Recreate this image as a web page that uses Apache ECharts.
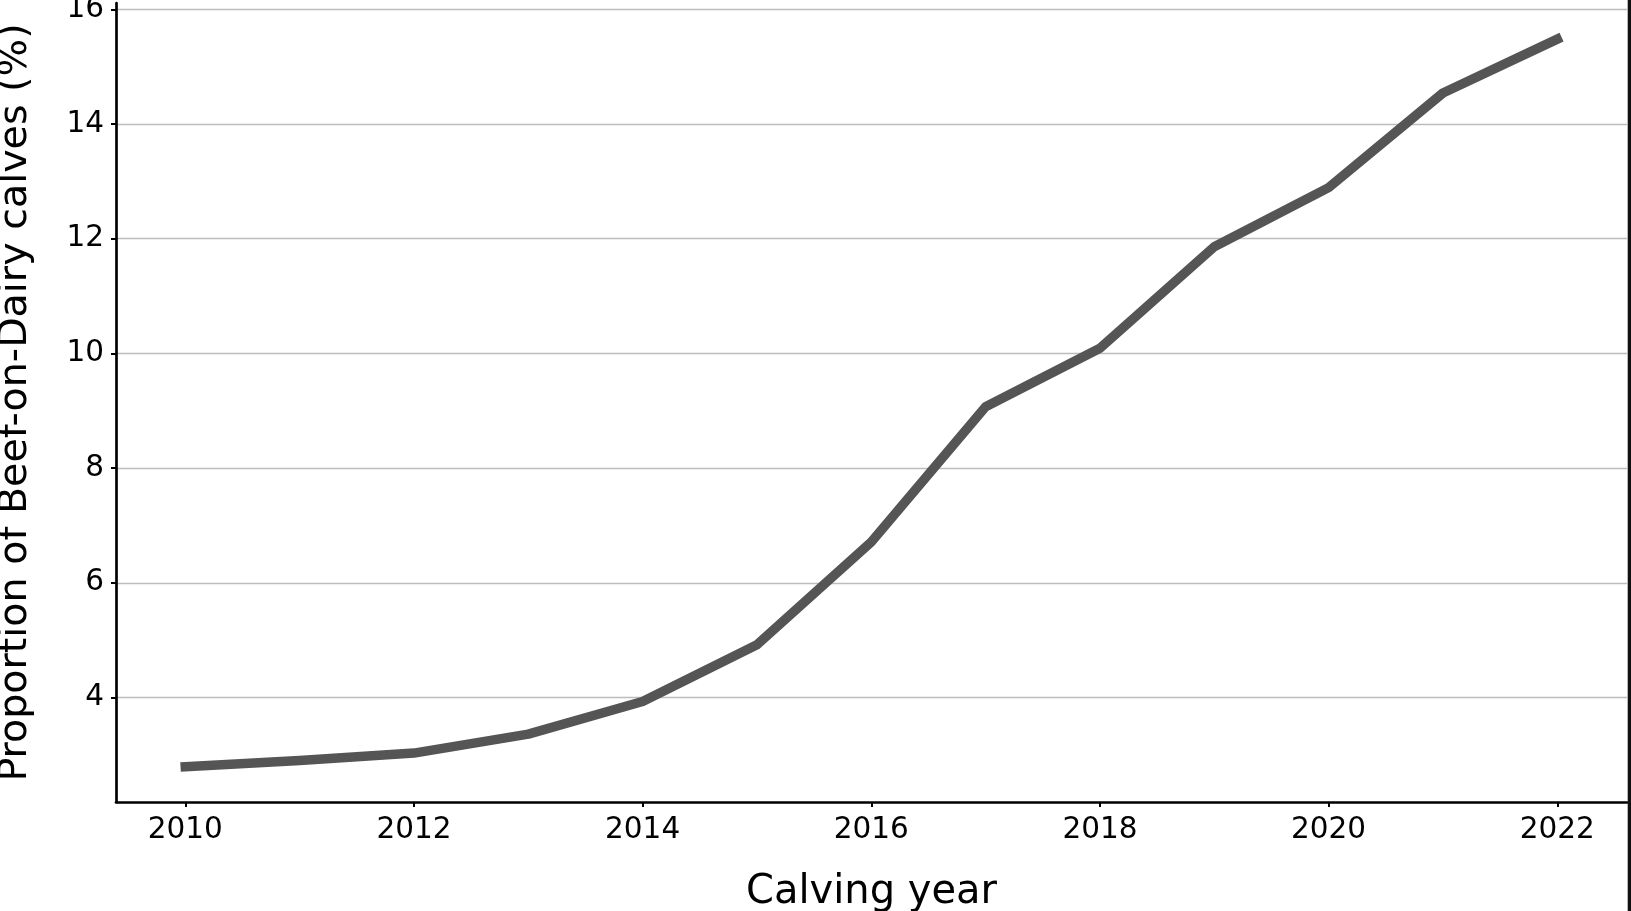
<!DOCTYPE html>
<html>
<head>
<meta charset="utf-8">
<script src="https://cdn.jsdelivr.net/npm/echarts@6/dist/echarts.min.js"></script>
<style>
  html, body { margin: 0; padding: 0; background: #fff; }
  #chart { width: 1631px; height: 911px; }
</style>
</head>
<body>
<div id="chart"></div>
<script>
// Data
const years = [2010, 2011, 2012, 2013, 2014, 2015, 2016, 2017, 2018, 2019, 2020, 2021, 2022];
const proportion = [2.79, 2.90, 3.03, 3.36, 3.93, 4.92, 6.71, 9.07, 10.09, 11.86, 12.89, 14.54, 15.48];
const xTicks = [2010, 2012, 2014, 2016, 2018, 2020, 2022];
const yTicks = [4, 6, 8, 10, 12, 14, 16];

const seriesData = years.map((y, i) => [y, proportion[i]]);
const font = 'DejaVu Sans';

const chart = echarts.init(document.getElementById('chart'), null, { renderer: 'canvas' });
chart.setOption({
  animation: false,
  backgroundColor: '#ffffff',
  grid: {
    left: 116, right: 4, top: 3, bottom: 109,
    containLabel: false,
    outerBoundsMode: 'none'
  },
  xAxis: {
    type: 'value',
    min: 2009.394,
    max: 2022.61,
    splitNumber: 7,
    name: 'Calving year',
    nameLocation: 'middle',
    nameGap: 71,
    nameTextStyle: { fontFamily: font, fontSize: 40, color: '#000' },
    axisLine: { show: true, onZero: false, lineStyle: { color: '#000', width: 2.7 } },
    axisTick: { show: true, length: 5, lineStyle: { color: '#000', width: 2 }, customValues: xTicks },
    axisLabel: {
      fontFamily: font, fontSize: 29.5, color: '#000', margin: 13,
      customValues: xTicks,
      formatter: v => String(v)
    },
    splitLine: { show: false }
  },
  yAxis: {
    type: 'value',
    min: 2.177,
    max: 16.11,
    splitNumber: 7,
    name: 'Proportion of Beef-on-Dairy calves (%)',
    nameLocation: 'middle',
    nameGap: 80,
    nameTextStyle: { fontFamily: font, fontSize: 39.6, color: '#000' },
    axisLine: { show: true, onZero: false, lineStyle: { color: '#000', width: 2.7 } },
    axisTick: { show: true, length: 5, lineStyle: { color: '#000', width: 2 }, customValues: yTicks },
    axisLabel: {
      fontFamily: font, fontSize: 29.5, color: '#000', margin: 12,
      customValues: yTicks,
      formatter: v => String(v)
    },
    splitLine: {
      show: true,
      lineStyle: { color: '#bdbdbd', width: 1.3 }
    }
  },
  series: [{
    type: 'line',
    data: seriesData,
    showSymbol: false,
    symbol: 'none',
    lineStyle: { color: '#555555', width: 9.5, cap: 'square', join: 'round' },
    z: 3
  }],
  graphic: [{
    type: 'rect',
    left: 1627.7,
    top: 0,
    shape: { x: 0, y: 0, width: 3.3, height: 911 },
    style: { fill: '#111111' },
    z: 100
  }]
});
</script>
</body>
</html>
